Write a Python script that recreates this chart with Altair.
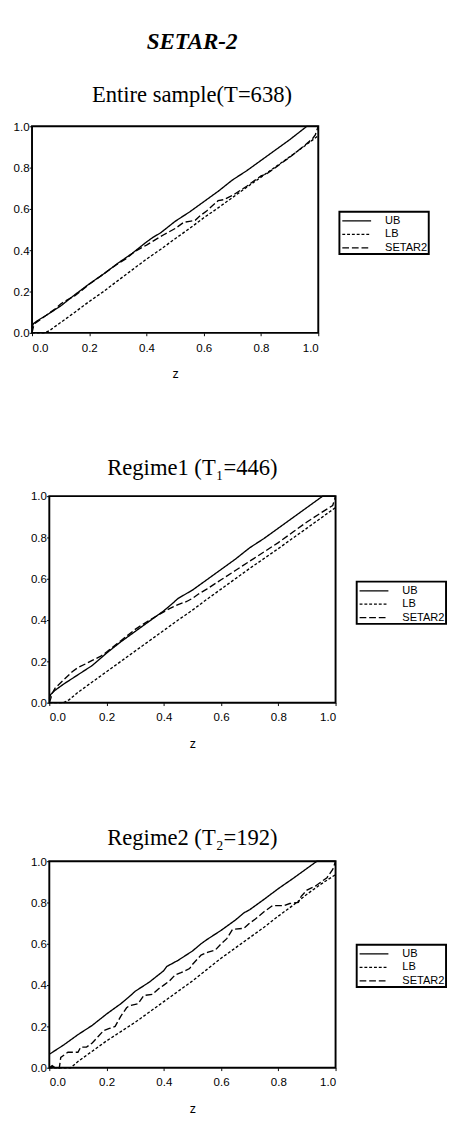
import altair as alt
import pandas as pd

SERIES = ["UB", "LB", "SETAR2"]
DASHES = [[1, 0], [3, 2], [7, 3]]
TICKS = [0.0, 0.2, 0.4, 0.6, 0.8, 1.0]

TITLES = ["Entire sample(T=638)", "Regime1 (T\u2081=446)", "Regime2 (T\u2082=192)"]

# ---- Entire sample ----
P1_UB_Z = [0, 0.005, 0.02, 0.05, 0.1, 0.15, 0.2, 0.25, 0.3, 0.35, 0.4, 0.42, 0.45, 0.5, 0.55, 0.6, 0.65, 0.7, 0.75, 0.8, 0.85, 0.9, 0.96, 1.0]
P1_UB_V = [0.025, 0.045, 0.06, 0.085, 0.13, 0.185, 0.237, 0.285, 0.337, 0.385, 0.44, 0.46, 0.485, 0.54, 0.585, 0.635, 0.685, 0.74, 0.785, 0.835, 0.885, 0.935, 1.0, 1.0]
P1_LB_Z = [0, 0.045, 0.06, 0.1, 0.15, 0.2, 0.25, 0.3, 0.35, 0.4, 0.45, 0.5, 0.55, 0.6, 0.65, 0.7, 0.75, 0.8, 0.85, 0.9, 0.95, 1.0]
P1_LB_V = [0, 0, 0.01, 0.05, 0.1, 0.152, 0.2, 0.253, 0.305, 0.357, 0.405, 0.456, 0.505, 0.557, 0.605, 0.655, 0.705, 0.754, 0.803, 0.852, 0.902, 0.955]
P1_S_Z = [0, 0.005, 0.01, 0.03, 0.05, 0.08, 0.1, 0.13, 0.15, 0.2, 0.25, 0.3, 0.33, 0.36, 0.4, 0.43, 0.46, 0.5, 0.53, 0.55, 0.57, 0.59, 0.61, 0.63, 0.65, 0.67, 0.7, 0.75, 0.8, 0.82, 0.85, 0.9, 0.95, 0.98, 0.99, 1.0]
P1_S_V = [0, 0.03, 0.045, 0.065, 0.085, 0.115, 0.14, 0.165, 0.18, 0.235, 0.285, 0.335, 0.36, 0.395, 0.425, 0.45, 0.475, 0.505, 0.535, 0.54, 0.545, 0.57, 0.59, 0.615, 0.64, 0.645, 0.665, 0.71, 0.76, 0.77, 0.8, 0.85, 0.905, 0.94, 0.96, 1.0]

# ---- Regime 1 ----
P2_UB_Z = [0, 0.005, 0.02, 0.05, 0.1, 0.15, 0.2, 0.25, 0.3, 0.35, 0.4, 0.43, 0.45, 0.5, 0.55, 0.6, 0.65, 0.7, 0.75, 0.8, 0.85, 0.9, 0.955, 1.0]
P2_UB_V = [0.02, 0.04, 0.06, 0.09, 0.135, 0.18, 0.24, 0.295, 0.345, 0.395, 0.445, 0.48, 0.505, 0.545, 0.595, 0.645, 0.695, 0.75, 0.795, 0.845, 0.895, 0.945, 1.0, 1.0]
P2_LB_Z = [0, 0.05, 0.07, 0.1, 0.15, 0.2, 0.25, 0.3, 0.35, 0.4, 0.45, 0.5, 0.55, 0.6, 0.65, 0.7, 0.75, 0.8, 0.85, 0.9, 0.95, 1.0]
P2_LB_V = [0, 0, 0.015, 0.05, 0.1, 0.15, 0.2, 0.25, 0.3, 0.35, 0.4, 0.448, 0.5, 0.55, 0.6, 0.65, 0.698, 0.746, 0.796, 0.845, 0.895, 0.945]
P2_S_Z = [0, 0.005, 0.01, 0.02, 0.05, 0.08, 0.1, 0.13, 0.15, 0.18, 0.2, 0.25, 0.3, 0.35, 0.4, 0.42, 0.45, 0.48, 0.5, 0.52, 0.55, 0.6, 0.65, 0.7, 0.75, 0.8, 0.85, 0.9, 0.95, 0.99, 1.0]
P2_S_V = [0, 0.02, 0.045, 0.07, 0.11, 0.15, 0.17, 0.19, 0.205, 0.225, 0.245, 0.3, 0.355, 0.4, 0.44, 0.455, 0.475, 0.49, 0.505, 0.525, 0.55, 0.595, 0.64, 0.685, 0.73, 0.775, 0.825, 0.875, 0.92, 0.955, 1.0]

# ---- Regime 2 ----
P3_UB_Z = [0, 0.05, 0.1, 0.15, 0.2, 0.25, 0.28, 0.3, 0.35, 0.4, 0.41, 0.45, 0.5, 0.53, 0.55, 0.6, 0.65, 0.68, 0.7, 0.75, 0.8, 0.85, 0.9, 0.935, 1.0]
P3_UB_V = [0.065, 0.11, 0.16, 0.205, 0.26, 0.31, 0.345, 0.37, 0.415, 0.47, 0.49, 0.52, 0.565, 0.6, 0.62, 0.665, 0.715, 0.75, 0.765, 0.815, 0.867, 0.915, 0.965, 1.0, 1.0]
P3_LB_Z = [0, 0.075, 0.1, 0.15, 0.2, 0.25, 0.3, 0.35, 0.4, 0.45, 0.5, 0.55, 0.6, 0.65, 0.7, 0.75, 0.8, 0.85, 0.9, 0.95, 1.0]
P3_LB_V = [0, 0, 0.03, 0.08, 0.13, 0.175, 0.22, 0.27, 0.32, 0.37, 0.42, 0.475, 0.53, 0.58, 0.63, 0.68, 0.734, 0.785, 0.84, 0.89, 0.935]
P3_S_Z = [0, 0.01, 0.02, 0.035, 0.04, 0.06, 0.065, 0.1, 0.11, 0.13, 0.15, 0.17, 0.19, 0.21, 0.23, 0.25, 0.27, 0.28, 0.31, 0.33, 0.36, 0.38, 0.4, 0.42, 0.44, 0.46, 0.49, 0.5, 0.52, 0.53, 0.555, 0.58, 0.6, 0.62, 0.64, 0.68, 0.7, 0.72, 0.75, 0.78, 0.82, 0.84, 0.87, 0.88, 0.9, 0.93, 0.95, 0.97, 0.99, 1.0]
P3_S_V = [0, 0.01, 0.0, 0.0, 0.05, 0.07, 0.075, 0.075, 0.1, 0.1, 0.12, 0.15, 0.18, 0.19, 0.2, 0.25, 0.29, 0.3, 0.31, 0.35, 0.355, 0.38, 0.4, 0.42, 0.45, 0.46, 0.48, 0.5, 0.53, 0.545, 0.56, 0.57, 0.6, 0.625, 0.67, 0.675, 0.7, 0.72, 0.755, 0.785, 0.785, 0.795, 0.8, 0.83, 0.86, 0.88, 0.9, 0.92, 0.96, 1.0]

# box drawn round each plot, in data units
FRAME = pd.DataFrame({"z0": [0.0], "z1": [1.0], "v0": [0.0], "v1": [1.0]})


def table(ub_z, ub_v, lb_z, lb_v, s_z, s_v):
    rows = []
    for name, zs, vs in [("UB", ub_z, ub_v), ("LB", lb_z, lb_v), ("SETAR2", s_z, s_v)]:
        for z, v in zip(zs, vs):
            rows.append({"z": z, "v": v, "series": name})
    return pd.DataFrame(rows)


def panel(df, title, title_dx, title_offset, shift, legend_y):
    inset = 18 if shift else 0
    width = 298 + inset
    xscale = alt.Scale(domain=[0, 1], nice=False, range=[inset, width])
    yscale = alt.Scale(domain=[0, 1], nice=False)
    yaxis = alt.Axis(values=TICKS, format=".1f", title=None, offset=-inset)
    xaxis = alt.Axis(values=TICKS, format=".1f", title="z")

    lines = (
        alt.Chart(df)
        .mark_line(color="black", strokeWidth=1.4)
        .encode(
            x=alt.X("z:Q", scale=xscale, axis=xaxis),
            y=alt.Y("v:Q", scale=yscale, axis=yaxis),
            strokeDash=alt.StrokeDash(
                "series:N",
                scale=alt.Scale(domain=SERIES, range=DASHES),
                legend=alt.Legend(title=None, orient="none", legendX=320 + inset,
                                  legendY=legend_y),
            ),
            detail="series:N",
        )
    )
    frame = (
        alt.Chart(FRAME)
        .mark_rect(fill=None, stroke="black", strokeWidth=2)
        .encode(
            x=alt.X("z0:Q", scale=xscale, axis=xaxis),
            x2="z1:Q",
            y=alt.Y("v0:Q", scale=yscale, axis=yaxis),
            y2="v1:Q",
        )
    )
    return alt.layer(lines, frame).properties(
        width=width, height=215,
        title=alt.TitleParams(title, font="Liberation Serif", fontSize=23.5,
                              fontWeight="normal", anchor="middle", dx=title_dx,
                              offset=title_offset, color="black"),
    )


c1 = panel(table(P1_UB_Z, P1_UB_V, P1_LB_Z, P1_LB_V, P1_S_Z, P1_S_V), TITLES[0], 17.5, 15, False, 89)
c2 = panel(table(P2_UB_Z, P2_UB_V, P2_LB_Z, P2_LB_V, P2_S_Z, P2_S_V), TITLES[1], 9, 11, True, 89)
c3 = panel(table(P3_UB_Z, P3_UB_V, P3_LB_Z, P3_LB_V, P3_S_Z, P3_S_V), TITLES[2], 9, 6, True, 87)

chart = (
    alt.vconcat(c1, c2, c3, spacing=79)
    .resolve_scale(strokeDash="independent")
    .resolve_legend(strokeDash="independent")
    .properties(
        title=alt.TitleParams("SETAR-2", font="Liberation Serif", fontSize=24,
                              fontWeight="bold", fontStyle="italic", anchor="start",
                              frame="bounds", dx=139, offset=31, color="black"),
        padding={"left": 5, "top": 0, "right": 0, "bottom": 0},
    )
    .configure_view(stroke=None)
    .configure_axis(
        domain=False, grid=False, ticks=True, tickSize=3, tickColor="black",
        tickWidth=1, labelFont="Liberation Sans", labelFontSize=12,
        labelColor="black", titleFont="Liberation Sans", titleFontSize=13,
        titleFontWeight="normal", titleColor="black",
    )
    .configure_axisY(labelPadding=0, labelBaseline="middle")
    .configure_axisX(labelPadding=7, titlePadding=16)
    .configure_legend(
        fillColor="white", strokeColor="black", strokeWidth=2, padding=1,
        labelFont="Liberation Sans", labelFontSize=11.5, labelColor="black",
        symbolType="M-2,0L2,0", symbolSize=225, symbolStrokeWidth=1.3,
        symbolStrokeColor="black", symbolOffset=8.5, labelOffset=21, rowPadding=0,
        cornerRadius=0,
    )
)

chart.save("out.html", embed_options={"renderer": "svg", "actions": False})
